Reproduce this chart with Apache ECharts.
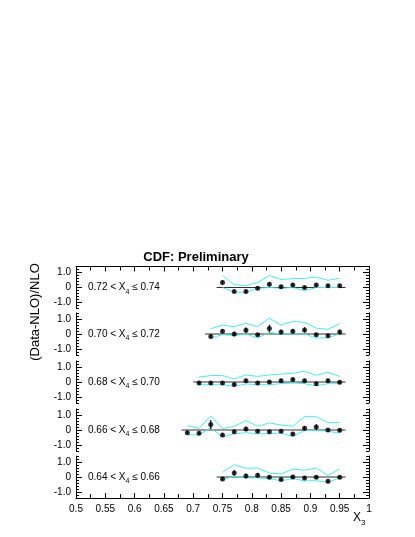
<!DOCTYPE html>
<html>
<head>
<meta charset="utf-8">
<script src="https://cdn.jsdelivr.net/npm/echarts@6/dist/echarts.min.js"></script>
<style>
  html, body { margin: 0; padding: 0; background: #fff; }
  #echart { width: 415px; height: 537px; }
</style>
</head>
<body>
<div id="echart"></div>
<script>
// X4 bins, top panel first
var x4Lo = [0.72, 0.70, 0.68, 0.66, 0.64];
var x4Hi = [0.74, 0.72, 0.70, 0.68, 0.66];
// first X3 point of each panel (points every 0.02 up to 0.95)
var x3First = [0.75, 0.73, 0.71, 0.69, 0.75];
// where the zero line starts
var zeroFrom = [0.74, 0.72, 0.70, 0.68, 0.74];
var zeroTo = 0.96;

var ratio1 = [0.33, -0.27, -0.27, -0.05, 0.21, 0.05, 0.16, 0, 0.16, 0.11, 0.11];
var upper1 = [0.82, 0.18, 0.13, 0.32, 0.8, 0.53, 0.59, 0.61, 0.69, 0.48, 0.61];
var lower1 = [0, -0.32, -0.32, -0.05, 0, -0.05, 0, -0.21, 0, 0, 0];
var err1 = [0.15, 0.1, 0.1, 0.1, 0.15, 0.12, 0.12, 0.1, 0.12, 0.1, 0.12];

var ratio2 = [-0.16, 0.18, 0, 0.25, -0.05, 0.37, 0.14, 0.18, 0.27, -0.05, -0.11, 0.14];
var upper2 = [0.35, 0.6, 0.49, 0.71, 0.49, 1.05, 0.6, 0.84, 0.78, 0.39, 0.31, 0.69];
var lower2 = [-0.27, -0.04, -0.11, 0, -0.27, 0.11, 0, 0, 0, -0.27, -0.25, 0];
var err2 = [0.12, 0.15, 0.15, 0.18, 0.12, 0.25, 0.15, 0.15, 0.18, 0.12, 0.1, 0.15];

var ratio3 = [-0.07, -0.07, -0.07, -0.16, 0.09, -0.07, 0, 0.09, 0.16, 0.09, -0.11, 0.09, -0.02];
var upper3 = [0.33, 0.43, 0.43, 0.2, 0.47, 0.37, 0.47, 0.53, 0.58, 0.71, 0.45, 0.64, 0.37];
var lower3 = [-0.18, -0.18, -0.18, -0.29, -0.13, -0.18, -0.18, -0.11, -0.07, -0.11, -0.25, -0.11, -0.11];
var err3 = [0.1, 0.1, 0.1, 0.1, 0.12, 0.1, 0.1, 0.12, 0.12, 0.12, 0.1, 0.12, 0.1];

var ratio4 = [-0.18, -0.22, 0.37, -0.33, -0.11, 0.06, -0.09, -0.11, -0.09, -0.27, 0.11, 0.2, 0, -0.02];
var upper4 = [0.29, 0.11, 0.94, 0.09, 0.25, 0.62, 0.25, 0.47, 0.33, 0.25, 0.89, 0.89, 0.49, 0.49];
var lower4 = [-0.33, -0.31, 0.14, -0.47, -0.25, -0.18, -0.25, -0.25, -0.2, -0.43, -0.04, -0.02, -0.09, -0.2];
var err4 = [0.1, 0.1, 0.3, 0.1, 0.1, 0.15, 0.1, 0.1, 0.1, 0.1, 0.15, 0.18, 0.1, 0.1];

var ratio5 = [-0.13, 0.27, 0.06, 0.11, -0.02, -0.16, 0, -0.06, -0.02, -0.29, -0.02];
var upper5 = [0.31, 0.82, 0.58, 0.6, 0.27, 0.2, 0.53, 0.45, 0.6, 0.11, 0.53];
var lower5 = [-0.18, 0.04, -0.06, -0.06, -0.11, -0.25, -0.11, -0.25, -0.25, -0.35, -0.06];
var err5 = [0.12, 0.18, 0.15, 0.15, 0.12, 0.1, 0.12, 0.1, 0.1, 0.12, 0.1];

var ratios = [ratio1, ratio2, ratio3, ratio4, ratio5];
var uppers = [upper1, upper2, upper3, upper4, upper5];
var lowers = [lower1, lower2, lower3, lower4, lower5];
var errs = [err1, err2, err3, err4, err5];

var yTickValues = [-1, 0, 1];

// layout
var FONT = 'Liberation Sans';
var gridLeft = 76, gridRight = 46, panelH = 42;
var panelTop = [266.5, 313, 361, 409, 456];
var zeroColor = ['#333', '#999', '#333', '#999', '#333'];
var zeroWidth = [1, 2, 1, 2, 1];
var bandColor = '#40f2f2';

var chart = echarts.init(document.getElementById('echart'));

var grids = [], xAxes = [], yAxes = [], series = [], graphics = [];

function xOf(p, k) { return +(x3First[p] + 0.02 * k).toFixed(2); }

for (var p = 0; p < 5; p++) {
  grids.push({ left: gridLeft, right: gridRight, top: panelTop[p], height: panelH });

  xAxes.push({
    gridIndex: p, type: 'value', min: 0.5, max: 1, interval: 0.05,
    show: p === 0 || p === 4,
    position: p === 0 ? 'top' : 'bottom',
    axisLine: { onZero: false, lineStyle: { color: '#000', width: 1 } },
    axisTick: { inside: true, length: 5, lineStyle: { color: '#000' } },
    minorTick: { show: true, splitNumber: 2, length: 4, lineStyle: { color: '#000' } },
    axisLabel: { show: p === 4, fontFamily: FONT, fontSize: 10, color: '#000', margin: 6 },
    splitLine: { show: false }
  });

  ['left', 'right'].forEach(function (side) {
    yAxes.push({
      gridIndex: p, type: 'value', min: -1.4, max: 1.4, position: side,
      axisLine: { show: true, onZero: false, lineStyle: { color: '#000', width: 1 } },
      axisTick: { inside: true, length: 6, customValues: yTickValues, lineStyle: { color: '#000' } },
      axisLabel: {
        show: side === 'left', customValues: yTickValues, fontFamily: FONT, fontSize: 10,
        color: '#000', margin: 5,
        formatter: function (v) { return v === 0 ? '0' : v.toFixed(1); }
      },
      splitLine: { show: false }
    });
    yAxes.push({
      gridIndex: p, type: 'value', min: -1.4, max: 1.4, interval: 0.2, position: side,
      axisLine: { show: false, onZero: false },
      axisTick: { inside: true, length: 3, lineStyle: { color: '#000' } },
      axisLabel: { show: false },
      splitLine: { show: false }
    });
  });

  var yi = p * 4;
  var pts = ratios[p].map(function (v, k) { return [xOf(p, k), v]; });
  var up = uppers[p].map(function (v, k) { return [xOf(p, k), v]; });
  var lo = lowers[p].map(function (v, k) { return [xOf(p, k), v]; });
  var eb = ratios[p].map(function (v, k) { return [xOf(p, k), v - errs[p][k], v + errs[p][k]]; });

  series.push({
    type: 'line', xAxisIndex: p, yAxisIndex: yi, symbol: 'none', silent: true,
    lineStyle: { color: zeroColor[p], width: zeroWidth[p] },
    data: [[zeroFrom[p], 0], [zeroTo, 0]], z: 1
  });
  series.push({
    type: 'line', xAxisIndex: p, yAxisIndex: yi, symbol: 'none',
    lineStyle: { color: bandColor, width: 1 }, data: up, z: 2
  });
  series.push({
    type: 'line', xAxisIndex: p, yAxisIndex: yi, symbol: 'none',
    lineStyle: { color: bandColor, width: 1 }, data: lo, z: 2
  });
  series.push({
    type: 'custom', xAxisIndex: p, yAxisIndex: yi, z: 3,
    renderItem: function (params, api) {
      var a = api.coord([api.value(0), api.value(1)]);
      var b = api.coord([api.value(0), api.value(2)]);
      return { type: 'line', shape: { x1: a[0], y1: a[1], x2: b[0], y2: b[1] },
        style: { stroke: '#000', lineWidth: 1.2 } };
    },
    data: eb
  });
  series.push({
    type: 'scatter', xAxisIndex: p, yAxisIndex: yi, symbol: 'circle', symbolSize: 5,
    itemStyle: { color: '#000' }, data: pts, z: 4
  });

  graphics.push({
    type: 'text', x: 88, y: panelTop[p] + panelH / 2,
    style: {
      text: '{a|' + x4Lo[p].toFixed(2) + ' < X}{s|4}{a| \u2264 ' + x4Hi[p].toFixed(2) + '}',
      verticalAlign: 'middle',
      rich: {
        a: { fontFamily: FONT, fontSize: 10, color: '#000', lineHeight: 16 },
        s: { fontFamily: FONT, fontSize: 7, color: '#000', verticalAlign: 'bottom' }
      }
    }
  });
}

graphics.push({
  type: 'text', x: 353, y: 518,
  style: {
    text: '{a|X}{s|3}', verticalAlign: 'middle',
    rich: {
      a: { fontFamily: FONT, fontSize: 12, color: '#000', lineHeight: 18 },
      s: { fontFamily: FONT, fontSize: 8, color: '#000', verticalAlign: 'bottom' }
    }
  }
});
graphics.push({
  type: 'text', x: 35, y: 312, rotation: Math.PI / 2,
  style: {
    text: '(Data-NLO)/NLO', fontFamily: FONT, fontSize: 13, fill: '#000',
    align: 'center', verticalAlign: 'middle'
  }
});

chart.setOption({
  animation: false,
  backgroundColor: '#fff',
  title: {
    text: 'CDF: Preliminary', left: 191, top: 246, textAlign: 'center',
    textStyle: { fontFamily: FONT, fontSize: 13, fontWeight: 'bold', color: '#000' }
  },
  grid: grids,
  xAxis: xAxes,
  yAxis: yAxes,
  series: series,
  graphic: graphics
});
</script>
</body>
</html>
